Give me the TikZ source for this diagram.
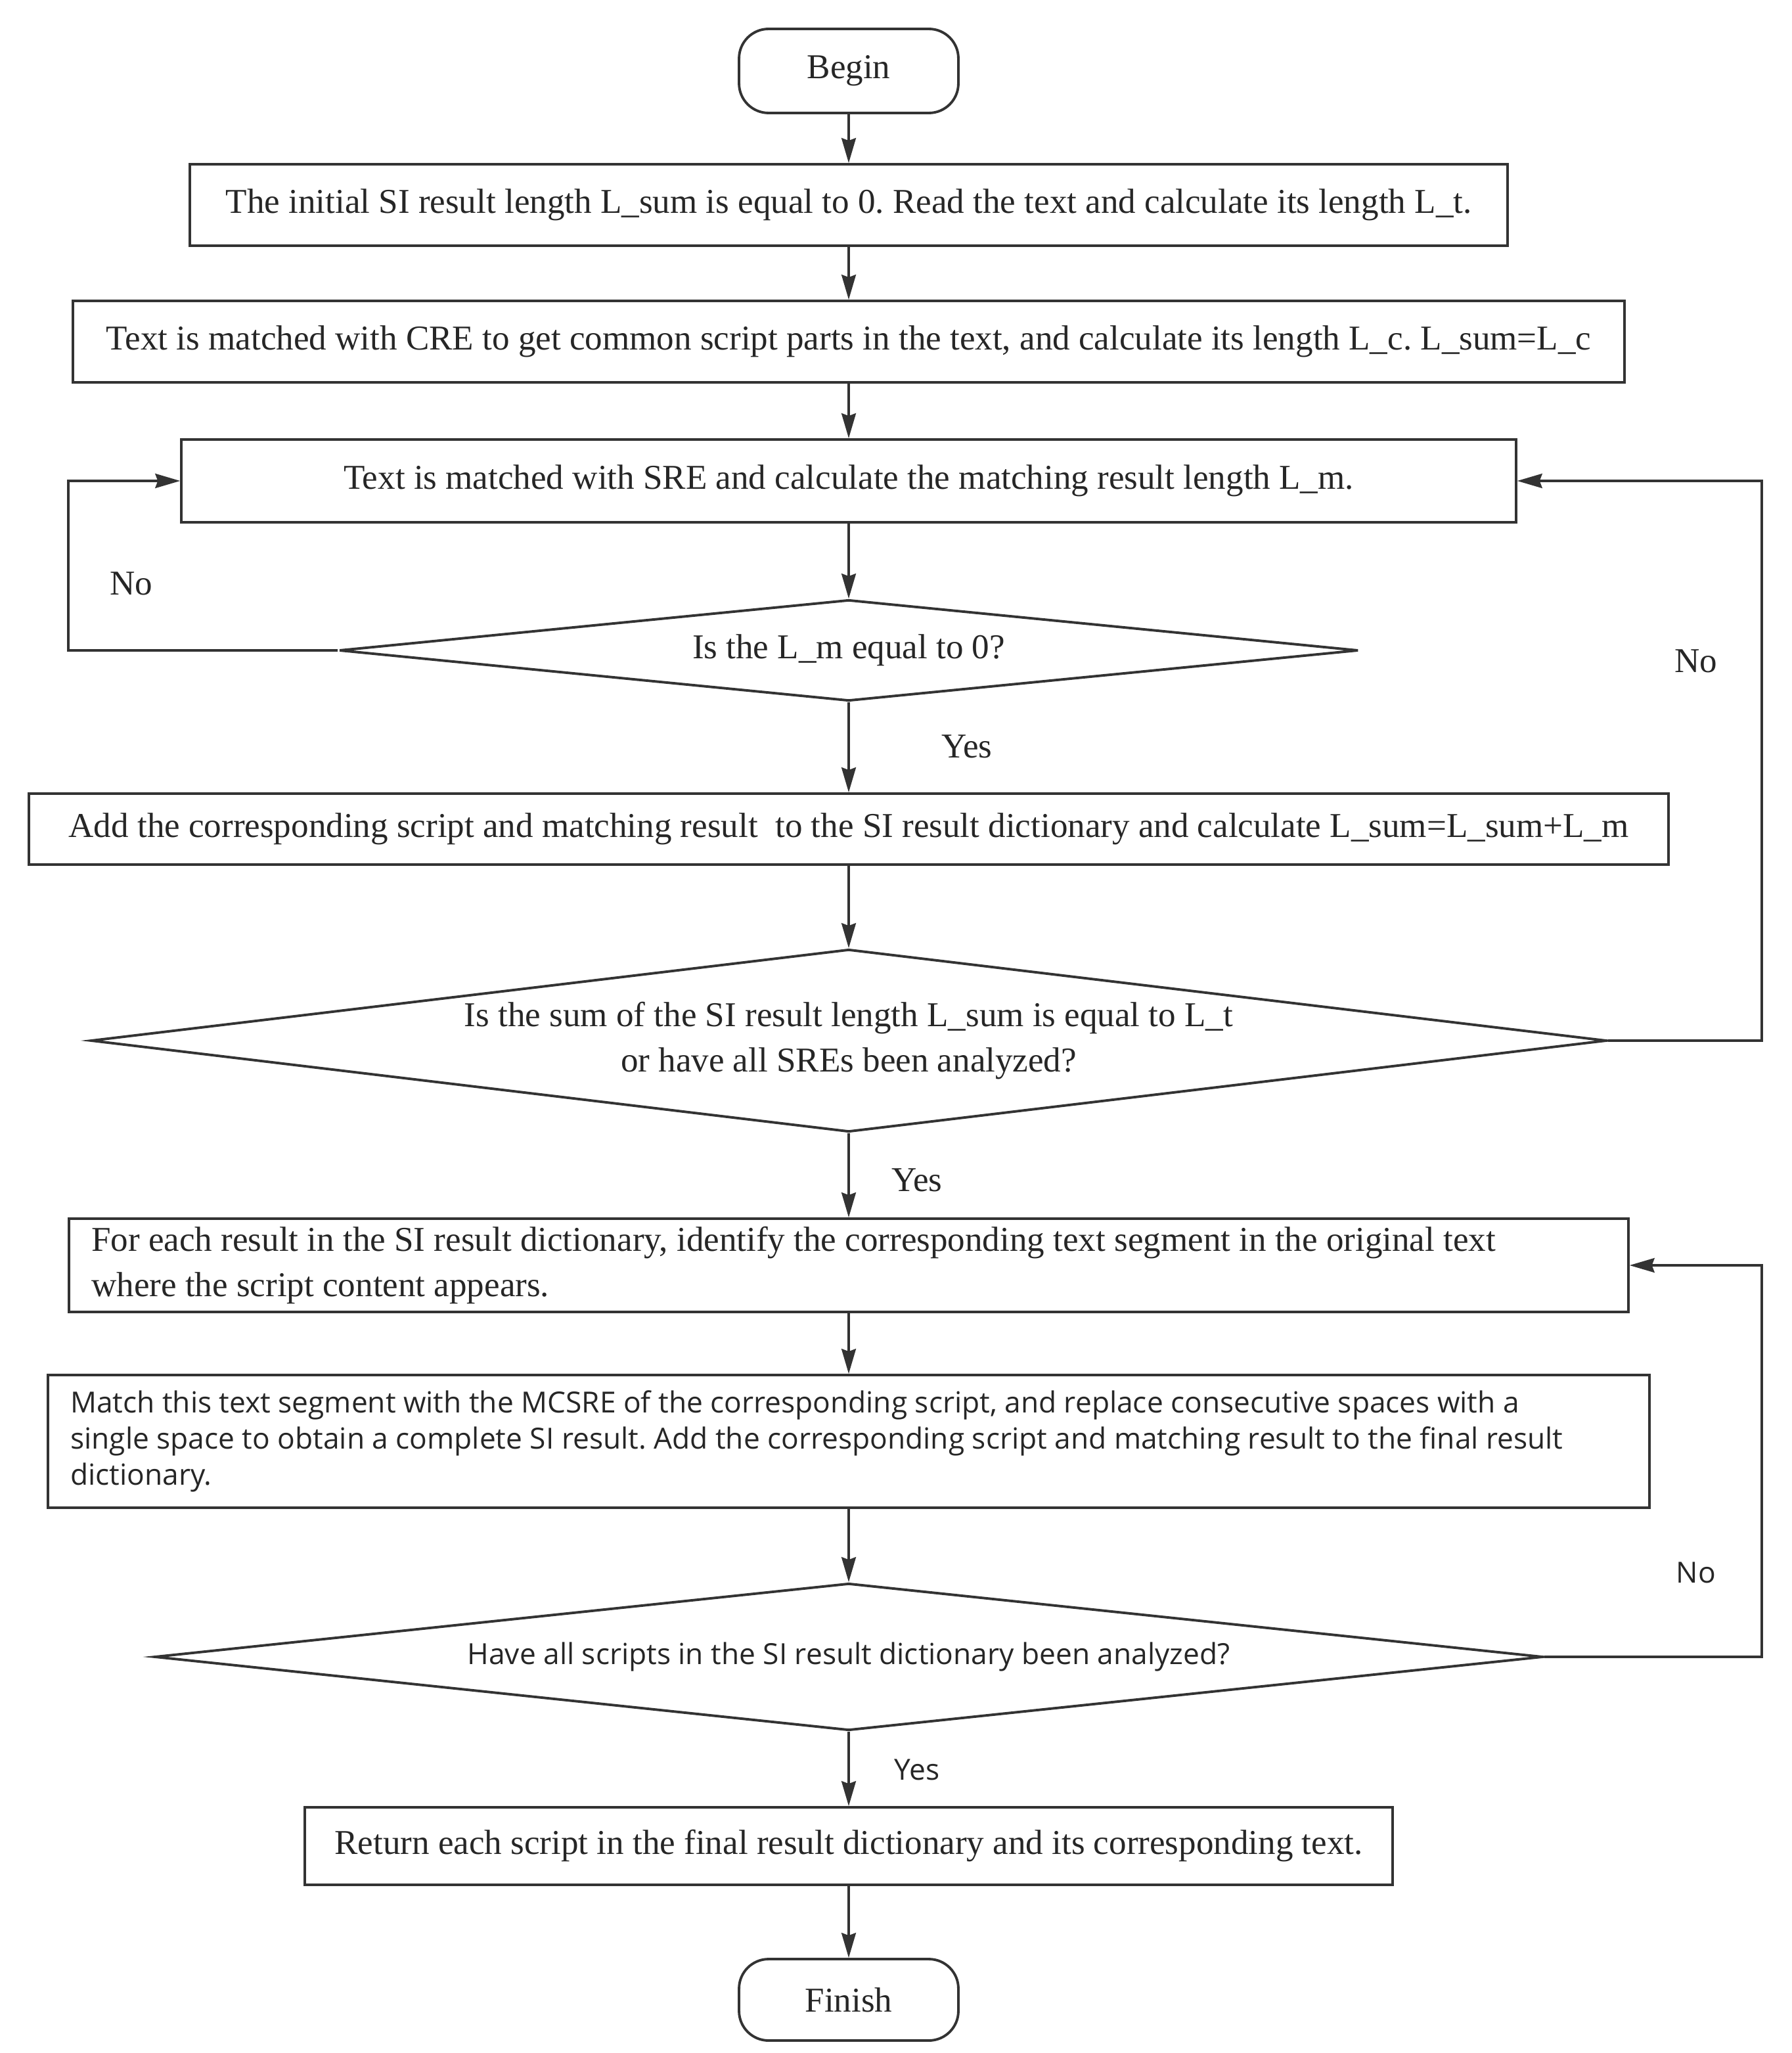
\documentclass[tikz,border=0pt]{standalone}
\usepackage{fontspec}
\setmainfont{Liberation Serif}
\newfontfamily\yahei{Open Sans}
\usetikzlibrary{shapes.geometric,arrows.meta}
\colorlet{linegray}{black!80}
\newcommand{\sansfnt}{\yahei\fontsize{12.6}{15.6}\selectfont\frenchspacing}

\begin{document}
\begin{tikzpicture}[x=0.02cm,y=-0.02cm,
        font=\fontsize{15.1}{19.4}\selectfont\frenchspacing,
        box/.style={draw=linegray,line width=1.1pt,text=black!85,inner sep=0pt},
        proc/.style={box,rectangle},
        term/.style={box,rectangle,rounded corners=0.45cm,minimum width=3.34cm},
        decision/.style={box,diamond,align=center},
        flow/.style={draw=linegray,line width=0.9pt,-{Stealth[length=0.38cm,width=0.22cm,inset=0.04cm]}},
        lbl/.style={text=black!85}]
        \useasboundingbox (0,0) rectangle (1364,1562.5);
        \coordinate (lrail) at (52,0);
        \coordinate (rrail) at (1341,0);
        % boxes
        \node[term,minimum height=1.28cm] (begin) at (646,54) {Begin};
        \node[proc,minimum width=20.06cm,minimum height=1.24cm] (init) at (646,156) {The initial SI result length L\_sum is equal to 0. Read the text and calculate its length L\_t.};
        \node[proc,minimum width=23.62cm,minimum height=1.24cm] (cre) at (646,260) {Text is matched with CRE to get common script parts in the text, and calculate its length L\_c. L\_sum=L\_c};
        \node[proc,minimum width=20.32cm,minimum height=1.26cm] (sre) at (646,366) {Text is matched with SRE and calculate the matching result length L\_m.};
        \node[decision,minimum width=15.52cm,minimum height=1.54cm,aspect=10] (zero) at (646,495) {Is the L\_m equal to 0?};
        \node[proc,minimum width=24.96cm,minimum height=1.08cm] (add) at (646,631) {Add the corresponding script and matching result\ \ to the SI result dictionary and calculate L\_sum=L\_sum+L\_m};
        \node[decision,minimum width=23.08cm,minimum height=2.78cm,aspect=8.3] (sum) at (646,792) {Is the sum of the SI result length L\_sum is equal to L\_t\\or have all SREs been analyzed?};
        \node[proc,minimum width=23.74cm,minimum height=1.42cm,text width=23.06cm,align=flush left] (each) at (646,963) {For each result in the SI result dictionary, identify the corresponding text segment in the original text\\where the script content appears.};
        \node[proc,minimum width=24.38cm,minimum height=2.02cm,text width=23.7cm,align=flush left,font=\sansfnt] (mcsre) at (646,1097) {Match this text segment with the MCSRE of the corresponding script, and replace consecutive spaces with a\\single space to obtain a complete SI result. Add the corresponding script and matching result to the final result\\dictionary.};
        \node[decision,minimum width=21.14cm,minimum height=2.24cm,aspect=9.4,font=\sansfnt] (all) at (646,1261) {Have all scripts in the SI result dictionary been analyzed?};
        \node[proc,minimum width=16.56cm,minimum height=1.18cm] (ret) at (646,1405) {Return each script in the final result dictionary and its corresponding text.};
        \node[term,minimum height=1.24cm] (finish) at (646,1522) {Finish};
        % main line
        \draw[flow] (begin) -- (init);
        \draw[flow] (init) -- (cre);
        \draw[flow] (cre) -- (sre);
        \draw[flow] (sre) -- (zero);
        \draw[flow] (zero) -- (add);
        \draw[flow] (add) -- (sum);
        \draw[flow] (sum) -- (each);
        \draw[flow] (each) -- (mcsre);
        \draw[flow] (mcsre) -- (all);
        \draw[flow] (all) -- (ret);
        \draw[flow] (ret) -- (finish);
        % loops back
        \draw[flow] (zero.west) -- (zero.west -| lrail) |- (sre.west);
        \draw[flow] (sum.east) -- (sum.east -| rrail) |- (sre.east);
        \draw[flow] (all.east) -- (all.east -| rrail) |- (each.east);
        % labels
        \node[lbl] (no1) at (100,444) {No};
        \node[lbl] (yes1) at (736,568) {Yes};
        \node[lbl] (no2) at (1291,503) {No};
        \node[lbl] (yes2) at (698,898) {Yes};
        \node[lbl,font=\sansfnt] (no3) at (1291,1197) {No};
        \node[lbl,font=\sansfnt] (yes3) at (698,1347) {Yes};
    \end{tikzpicture}
\end{document}
